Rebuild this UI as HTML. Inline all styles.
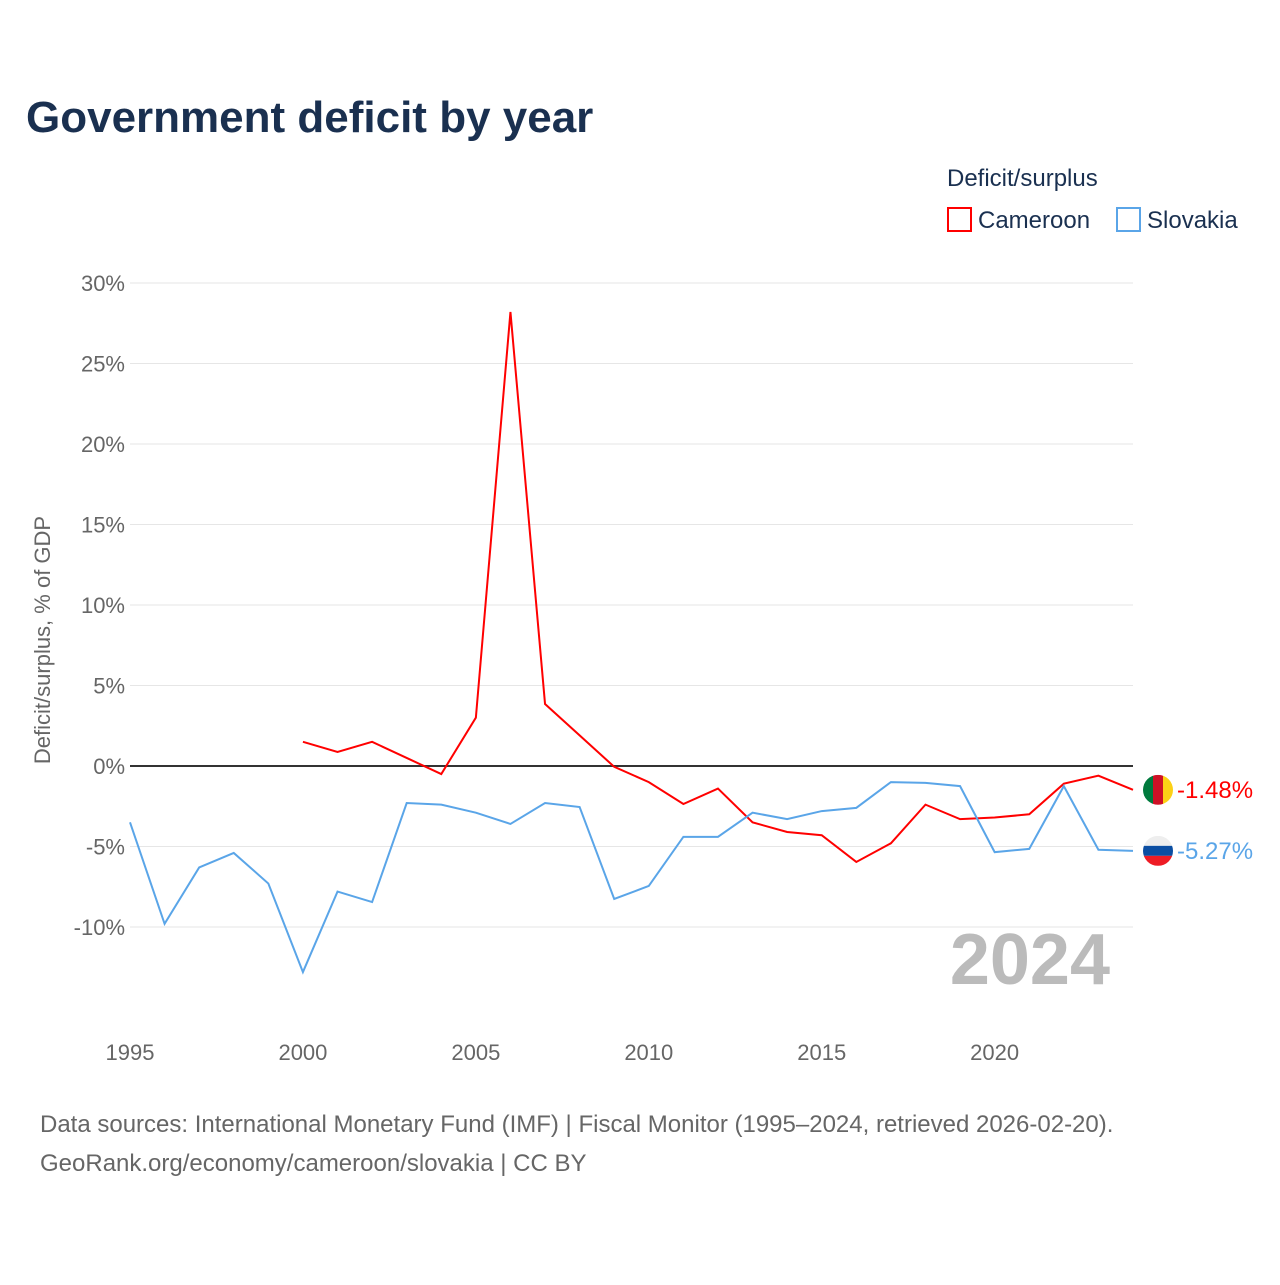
<!DOCTYPE html>
<html><head><meta charset="utf-8"><style>
body{margin:0;background:#fff;font-family:"Liberation Sans",sans-serif}
</style></head><body>
<svg width="1280" height="1280" viewBox="0 0 1280 1280" xmlns="http://www.w3.org/2000/svg">
<defs>
<clipPath id="cc"><circle cx="0" cy="0" r="15"/></clipPath>
</defs>
<text x="26" y="132" font-size="44" font-weight="bold" fill="#1a3050">Government deficit by year</text>
<text x="947" y="186" font-size="24" fill="#1a3050">Deficit/surplus</text>
<g><rect x="948" y="208" width="23" height="23" fill="none" stroke="#ff0000" stroke-width="2"/><text x="978" y="228" font-size="24" fill="#1a3050">Cameroon</text></g>
<g><rect x="1117" y="208" width="23" height="23" fill="none" stroke="#5aa5e8" stroke-width="2"/><text x="1147" y="228" font-size="24" fill="#1a3050">Slovakia</text></g>
<g id="grid"></g>
<g id="yt"></g>
<g id="xt"></g>
<text transform="translate(50,640) rotate(-90)" text-anchor="middle" font-size="22" fill="#666">Deficit/surplus, % of GDP</text>
<text x="1110" y="984" text-anchor="end" font-size="72" font-weight="bold" fill="#bbb">2024</text>
<g id="series"></g>
<text x="40" y="1132" font-size="24" fill="#666">Data sources: International Monetary Fund (IMF) | Fiscal Monitor (1995–2024, retrieved 2026-02-20).</text>
<text x="40" y="1171" font-size="24" fill="#666">GeoRank.org/economy/cameroon/slovakia | CC BY</text>
</svg>
<script>
const cmrYears=[2000,2001,2002,2003,2004,2005,2006,2007,2008,2009,2010,2011,2012,2013,2014,2015,2016,2017,2018,2019,2020,2021,2022,2023,2024];
const cmrValues=[1.5,0.87,1.5,0.5,-0.5,3.0,28.2,3.85,1.9,-0.05,-1.0,-2.36,-1.4,-3.5,-4.1,-4.3,-5.96,-4.8,-2.4,-3.3,-3.2,-3.0,-1.1,-0.6,-1.48];
const svkYears=[1995,1996,1997,1998,1999,2000,2001,2002,2003,2004,2005,2006,2007,2008,2009,2010,2011,2012,2013,2014,2015,2016,2017,2018,2019,2020,2021,2022,2023,2024];
const svkValues=[-3.5,-9.8,-6.3,-5.4,-7.3,-12.8,-7.8,-8.45,-2.3,-2.4,-2.9,-3.6,-2.3,-2.55,-8.26,-7.45,-4.4,-4.4,-2.9,-3.3,-2.8,-2.6,-1.0,-1.05,-1.25,-5.35,-5.15,-1.25,-5.2,-5.27];
const yTicks=[30,25,20,15,10,5,0,-5,-10];
const xTicks=[1995,2000,2005,2010,2015,2020];
const NS="http://www.w3.org/2000/svg";
const X=y=>130+(y-1995)*(1133-130)/29;
const Y=v=>766-v*(766-283)/30;
function mk(t,a,p){const e=document.createElementNS(NS,t);for(const k in a)e.setAttribute(k,a[k]);(typeof p==='string'?document.getElementById(p):p).appendChild(e);return e;}
yTicks.forEach(v=>{
 const l=mk('line',{x1:130,x2:1133,y1:Y(v),y2:Y(v),stroke:v===0?'#333':'#e6e6e6','stroke-width':v===0?2:1},'grid');
 
 
 const t=mk('text',{x:125,y:Y(v)+8,'text-anchor':'end','font-size':22,fill:'#666'},'yt');
 t.textContent=v+'%';
 
 
});
xTicks.forEach(y=>{
 const t=mk('text',{x:X(y),y:1060,'text-anchor':'middle','font-size':22,fill:'#666'},'xt');
 t.textContent=y;
 
 
});
function line(ys,vs,c,name,stripes,vertical){
 const p=mk('polyline',{points:ys.map((y,i)=>X(y)+','+Y(vs[i])).join(' '),fill:'none',stroke:c,'stroke-width':2},'series');
 
 
 const ly=ys[ys.length-1],lv=vs[vs.length-1];
 const g=mk('g',{transform:'translate('+(X(ly)+25)+','+Y(lv)+')','clip-path':'url(#cc)'},'series');
 
 
 stripes.forEach((s,i)=>{
  if(vertical) mk('rect',{x:-15+i*10,y:-15,width:10,height:30,fill:s},g);
  else mk('rect',{x:-15,y:-15+i*10,width:30,height:10,fill:s},g);
 });
 const t=mk('text',{x:X(ly)+44,y:Y(lv)+8,'font-size':24,fill:c},'series');
 t.textContent=lv.toFixed(2)+'%';
 
 
}
line(cmrYears,cmrValues,'#ff0000','cameroon',['#007a3d','#ce1126','#fcd116'],true);
line(svkYears,svkValues,'#5aa5e8','slovakia',['#eeeeee','#0b4ea2','#ee1c25'],false);
</script>
</body></html>
